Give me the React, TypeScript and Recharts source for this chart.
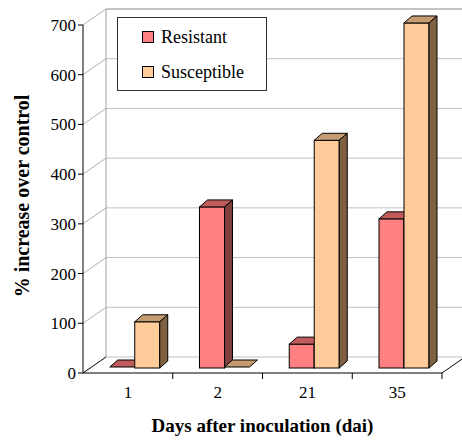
import { BarChart, Bar, XAxis, YAxis, CartesianGrid } from "recharts";

const days = ["1", "2", "21", "35"];
const resistant = [2, 324, 48, 300];
const susceptible = [93, 2, 458, 694];
const yTicks = [0, 100, 200, 300, 400, 500, 600, 700];

const series = [
  { key: "resistant", name: "Resistant", front: "#ff8080", top: "#c05c5c", side: "#7f3f3f" },
  { key: "susceptible", name: "Susceptible", front: "#ffcc99", top: "#c49c70", side: "#7f6040" },
];

const data = days.map((d, i) => ({
  day: d,
  resistant: resistant[i],
  susceptible: susceptible[i],
}));

// 3D look: back wall offset, bar front-plane offset, bar depth
const WALL_DX = 23;
const WALL_DY = -16;
const BAR_SX = 7;
const BAR_SY = -5;
const DEPTH_DX = 8;
const DEPTH_DY = -7;

const FONT = "'Liberation Serif', 'Times New Roman', serif";

const make3DBar = (front: string, top: string, side: string) => (props: any) => {
  const { x, y, width, height } = props;
  const h = Math.max(height || 0, 0);
  const fx = x + BAR_SX;
  const fy = y + BAR_SY;
  return (
    <g stroke="#000" strokeWidth={1}>
      {h > 1 && <rect x={fx} y={fy} width={width} height={h} fill={front} />}
      <polygon
        points={`${fx},${fy} ${fx + DEPTH_DX},${fy + DEPTH_DY} ${fx + width + DEPTH_DX},${fy + DEPTH_DY} ${fx + width},${fy}`}
        fill={top}
      />
      {h > 1 && (
        <polygon
          points={`${fx + width},${fy} ${fx + width + DEPTH_DX},${fy + DEPTH_DY} ${fx + width + DEPTH_DX},${fy + h + DEPTH_DY} ${fx + width},${fy + h}`}
          fill={side}
        />
      )}
    </g>
  );
};

const wallLine = (props: any) => {
  const { x1, y1, x2, y2, index, x, y, height } = props;
  const bottom = y + height;
  const isTop = Math.abs(y1 - y) < 0.5;
  const isBottom = Math.abs(y1 - bottom) < 0.5;
  return (
    <g key={`wall-${index}`}>
      <line
        x1={x1}
        y1={y1}
        x2={x1 + WALL_DX}
        y2={y1 + WALL_DY}
        stroke={isBottom ? "#000" : "#b0b0b0"}
      />
      <line
        x1={x1 + WALL_DX}
        y1={y1 + WALL_DY}
        x2={x2 + WALL_DX}
        y2={y2 + WALL_DY}
        stroke={isTop ? "#888" : "#c0c0c0"}
      />
      {isTop && (
        <line
          x1={x1 + WALL_DX}
          y1={y + WALL_DY}
          x2={x1 + WALL_DX}
          y2={bottom + WALL_DY}
          stroke="#a0a0a0"
        />
      )}
      {isBottom && (
        <line x1={x2} y1={y2} x2={x2 + WALL_DX} y2={y2 + WALL_DY} stroke="#000" />
      )}
    </g>
  );
};

const DayTick = (props: any) => {
  const { x, y, payload } = props;
  const half = payload?.offset ?? 45;
  return (
    <g>
      <line x1={x + half} y1={y - 8} x2={x + half} y2={y - 2} stroke="#000" />
      <text x={x} y={y + 17} textAnchor="middle" fontSize={17} fontFamily={FONT} fill="#000">
        {payload.value}
      </text>
    </g>
  );
};

export default function App() {
  return (
    <div style={{ position: "absolute", left: 0, top: 0, width: 462, height: 440, background: "#fff" }}>
      <BarChart
        width={462}
        height={440}
        data={data}
        margin={{ top: 25, right: 20, bottom: 0, left: 0 }}
        barCategoryGap="22%"
        barGap={0}
      >
        <CartesianGrid horizontal={wallLine} vertical={false} />
        <XAxis
          dataKey="day"
          height={67}
          axisLine={{ stroke: "#000" }}
          tickLine={false}
          tick={<DayTick />}
          interval={0}
          label={(p: any) => {
            const vb = p.viewBox || { x: 83, y: 373, width: 359, height: 67 };
            return (
              <text
                x={vb.x + vb.width / 2}
                y={vb.y + 59}
                textAnchor="middle"
                fontSize={19}
                fontWeight="bold"
                fontFamily={FONT}
                fill="#000"
              >
                Days after inoculation (dai)
              </text>
            );
          }}
        />
        <YAxis
          domain={[0, 700]}
          ticks={yTicks}
          interval={0}
          width={83}
          axisLine={{ stroke: "#000" }}
          tickLine={{ stroke: "#000" }}
          tickSize={5}
          tick={{ fill: "#000", fontSize: 17, fontFamily: FONT }}
          label={(p: any) => {
            const vb = p.viewBox || { x: 0, y: 25, width: 83, height: 348 };
            const cx = 22;
            const cy = vb.y + vb.height / 2 - 3;
            return (
              <text
                x={cx}
                y={cy}
                transform={`rotate(-90 ${cx} ${cy})`}
                textAnchor="middle"
                dominantBaseline="central"
                fontSize={20}
                fontWeight="bold"
                fontFamily={FONT}
                fill="#000"
              >
                % increase over control
              </text>
            );
          }}
        />
        {series.map((s) => (
          <Bar
            key={s.key}
            dataKey={s.key}
            name={s.name}
            fill={s.front}
            isAnimationActive={false}
            shape={make3DBar(s.front, s.top, s.side)}
          />
        ))}
      </BarChart>
      <div
        style={{
          position: "absolute",
          left: 117,
          top: 17,
          width: 148,
          height: 72,
          border: "1px solid #333",
          background: "#fff",
          fontFamily: FONT,
          fontSize: 18,
          color: "#000",
        }}
      >
        {series.map((s, i) => (
          <div
            key={s.key}
            style={{
              position: "absolute",
              left: 24,
              top: 9 + i * 35,
              height: 20,
              display: "flex",
              alignItems: "center",
              whiteSpace: "nowrap",
            }}
          >
            <span
              style={{
                display: "inline-block",
                width: 10,
                height: 10,
                background: s.front,
                border: "1px solid #000",
                marginRight: 7,
              }}
            />
            <span>{s.name}</span>
          </div>
        ))}
      </div>
    </div>
  );
}
